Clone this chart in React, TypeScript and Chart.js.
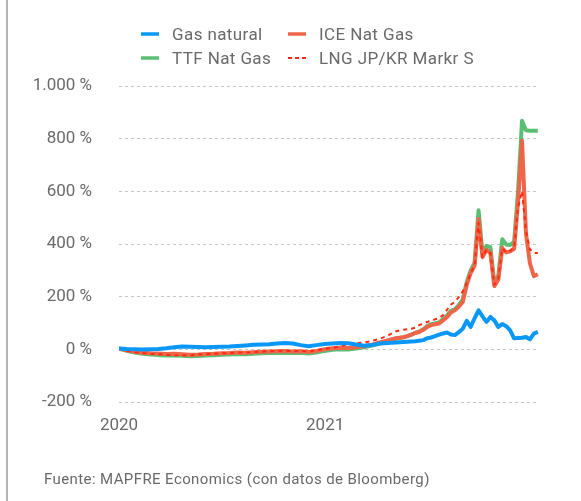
import React, { useEffect, useRef } from 'react';
import { Chart, registerables } from 'chart.js';

Chart.register(...registerables);

// x positions: weeks since the start of 2020
const weeks = [
  0, 2, 4, 6, 8, 10, 12, 14, 16, 18, 20, 22, 24, 26, 28, 30, 32, 34, 36, 38, 40, 42, 44, 46, 48, 50, 52, 54, 56, 58, 60, 62, 64, 66, 68, 70,
  71, 72, 73, 74, 75, 76, 77, 78, 79, 80, 81, 82, 83, 84, 85, 86, 87, 88, 89, 90, 91, 92, 93, 94, 95, 96, 97, 98, 99, 100, 101, 102, 103, 104, 105, 106,
];

const gasNatural = [
  3, 1, 0, -1, 0, 1, 4, 8, 11, 10, 9, 8, 9, 10, 11, 13, 15, 17, 18, 19, 22, 24, 22, 16, 12, 16, 20, 22, 24, 23, 18, 14, 16, 22, 24, 26,
  27, 28, 29, 30, 31, 33, 35, 42, 45, 50, 56, 60, 64, 56, 54, 65, 78, 108, 85, 118, 148, 125, 104, 123, 110, 85, 96, 88, 72, 42, 43, 44, 47, 38, 60, 66,
];

const iceNatGas = [
  3, -4, -9, -13, -15, -16, -18, -17, -19, -21, -20, -18, -17, -15, -14, -12, -13, -11, -9, -8, -7, -6, -8, -7, -10, -6, 0, 4, 6, 5, 8, 12, 18, 26, 34, 42,
  44, 46, 50, 56, 62, 66, 74, 85, 92, 95, 98, 110, 122, 140, 148, 162, 180, 245, 290, 318, 495, 350, 378, 365, 240, 265, 385, 368, 372, 382, 560, 792, 440, 327, 278, 285,
];

const ttfNatGas = [
  3, -6, -12, -17, -20, -22, -23, -23, -24, -26, -25, -23, -22, -21, -20, -18, -19, -17, -15, -14, -14, -13, -14, -13, -16, -12, -6, -2, 0, -1, 3, 8, 14, 22, 30, 40,
  43, 46, 50, 56, 63, 68, 76, 88, 95, 98, 102, 115, 128, 146, 152, 168, 190, 255, 300, 328, 528, 365, 393, 388, 252, 280, 418, 398, 396, 408, 600, 868, 832, 830, 830, 830,
];

const lngJpKr = [
  2, -6, -11, -14, -17, -19, -21, -23, -22, -24, -20, -18, -17, -15, -14, -12, -12, -10, -9, -7, -6, -5, -7, -6, -8, -4, 2, 6, 12, 18, 24, 26, 32, 40, 52, 68,
  72, 74, 76, 78, 82, 92, 98, 104, 108, 114, 118, 130, 150, 170, 180, 198, 220, 250, 290, 318, 480, 350, 378, 365, 245, 268, 383, 368, 375, 385, 540, 600, 450, 380, 366, 366,
];

const yearTickWeeks = [0, 52.18];
const yearTickLabels = ['2020', '2021'];
const yTickValues = [-200, 0, 200, 400, 600, 800, 1000];

const seriesNames = ['Gas natural', 'ICE Nat Gas', 'TTF Nat Gas', 'LNG JP/KR Markr S'];
const COLORS = {
  gas: '#0a97f6',
  ice: '#ee654a',
  ttf: '#5bbf73',
  lng: '#ff2b10',
};
const TEXT = '#6a6a6a';
const FONT = 'Roboto, "DejaVu Sans", sans-serif';

function fmtPct(v: number): string {
  const s = Math.abs(v).toString().replace(/\B(?=(\d{3})+(?!\d))/g, '.');
  return (v < 0 ? '-' : '') + s + ' %';
}

function LegendItem({ label, color, dashed, left, top }: { label: string; color: string; dashed?: boolean; left: number; top: number }) {
  return (
    <div style={{ position: 'absolute', left, top, height: 20, display: 'flex', alignItems: 'center', whiteSpace: 'nowrap' }}>
      <svg width={18} height={4} style={{ display: 'block' }}>
        <line x1={0} y1={2} x2={18} y2={2} stroke={color} strokeWidth={dashed ? 2 : 3.5} strokeDasharray={dashed ? '4 3' : undefined} />
      </svg>
      <span style={{ marginLeft: 13, font: `17px ${FONT}`, letterSpacing: '0.4px', color: TEXT, lineHeight: '20px' }}>{label}</span>
    </div>
  );
}

export default function App() {
  const ref = useRef<HTMLCanvasElement | null>(null);

  useEffect(() => {
    if (!ref.current) return;
    const pts = (arr: number[]) => weeks.map((w, i) => ({ x: w, y: arr[i] }));
    const chart = new Chart(ref.current, {
      type: 'line',
      data: {
        datasets: [
          { label: seriesNames[0], data: pts(gasNatural), borderColor: COLORS.gas, backgroundColor: COLORS.gas, borderWidth: 4, order: 0 },
          { label: seriesNames[3], data: pts(lngJpKr), borderColor: COLORS.lng, backgroundColor: COLORS.lng, borderWidth: 2, borderDash: [4, 4], order: 1 },
          { label: seriesNames[1], data: pts(iceNatGas), borderColor: COLORS.ice, backgroundColor: COLORS.ice, borderWidth: 4, order: 2 },
          { label: seriesNames[2], data: pts(ttfNatGas), borderColor: COLORS.ttf, backgroundColor: COLORS.ttf, borderWidth: 4, order: 3 },
        ],
      },
      options: {
        animation: false,
        responsive: false,
        events: [],
        elements: {
          point: { radius: 0 },
          line: { tension: 0, borderJoinStyle: 'round', borderCapStyle: 'butt' },
        },
        layout: { padding: { left: 0, right: 42, top: 86, bottom: 69 } },
        plugins: { legend: { display: false }, tooltip: { enabled: false }, title: { display: false } },
        scales: {
          x: {
            type: 'linear',
            min: 0,
            max: 106.3,
            grid: { display: false },
            border: { display: false },
            afterBuildTicks: (s: any) => {
              s.ticks = yearTickWeeks.map((v) => ({ value: v }));
            },
            afterFit: (s: any) => {
              s.height = 30;
            },
            ticks: {
              autoSkip: false,
              maxRotation: 0,
              padding: 6,
              color: TEXT,
              font: { family: FONT, size: 17 },
              callback: (v: any) => {
                const i = yearTickWeeks.indexOf(Number(v));
                return i >= 0 ? yearTickLabels[i] : '';
              },
            },
          },
          y: {
            min: -200,
            max: 1000,
            afterBuildTicks: (s: any) => {
              s.ticks = yTickValues.map((v) => ({ value: v }));
            },
            afterFit: (s: any) => {
              s.width = 119;
            },
            grid: { color: '#c6c6c6', lineWidth: 1, drawTicks: false },
            border: { display: false, dash: [3, 3] },
            ticks: {
              padding: 27,
              color: TEXT,
              font: { family: FONT, size: 17 },
              callback: (v: any) => fmtPct(Number(v)),
            },
          },
        },
      },
    });
    return () => chart.destroy();
  }, []);

  return (
    <div style={{ position: 'fixed', left: 0, top: 0, width: 581, height: 501, background: '#fff', overflow: 'hidden' }}>
      <div style={{ position: 'absolute', left: 6, top: 0, width: 2, height: 501, background: '#b4b4b4' }} />
      <canvas ref={ref} width={581} height={501} style={{ position: 'absolute', left: 0, top: 0, width: 581, height: 501 }} />
      <LegendItem label={seriesNames[0]} color={COLORS.gas} left={141} top={24} />
      <LegendItem label={seriesNames[1]} color={COLORS.ice} left={288} top={24} />
      <LegendItem label={seriesNames[2]} color={COLORS.ttf} left={141} top={48} />
      <LegendItem label={seriesNames[3]} color={COLORS.lng} dashed left={288} top={48} />
      <div style={{ position: 'absolute', left: 44, top: 470, font: `15px ${FONT}`, letterSpacing: '0.4px', color: TEXT, lineHeight: '18px', whiteSpace: 'nowrap' }}>
        Fuente: MAPFRE Economics (con datos de Bloomberg)
      </div>
    </div>
  );
}
